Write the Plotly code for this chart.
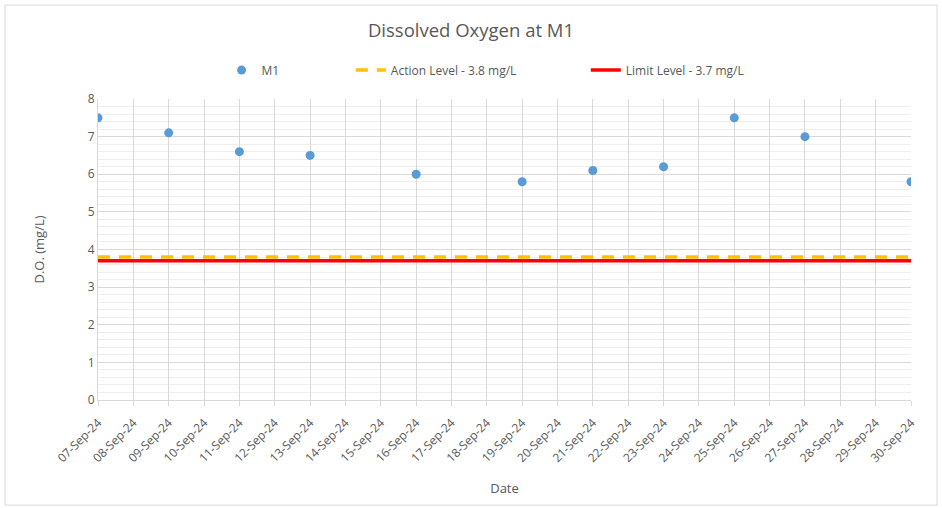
import plotly.graph_objects as go

dates = ["2024-09-07", "2024-09-09", "2024-09-11", "2024-09-13", "2024-09-16",
         "2024-09-19", "2024-09-21", "2024-09-23", "2024-09-25", "2024-09-27", "2024-09-30"]
do_values = [7.5, 7.1, 6.6, 6.5, 6.0, 5.8, 6.1, 6.2, 7.5, 7.0, 5.8]
line_dates = ["2024-09-07", "2024-09-30"]
action_level = [3.8, 3.8]
limit_level = [3.7, 3.7]

FONT = "Open Sans"
GREY = "#595959"

fig = go.Figure()
fig.add_trace(go.Scatter(x=dates, y=do_values, mode="markers", name="M1",
                         marker=dict(color="#5B9BD5", size=9), legend="legend"))
fig.add_trace(go.Scatter(x=line_dates, y=action_level, mode="lines",
                         name="Action Level - 3.8 mg/L",
                         line=dict(color="#FFC000", width=3.5, dash="12px,9px"), legend="legend2"))
fig.add_trace(go.Scatter(x=line_dates, y=limit_level, mode="lines",
                         name="Limit Level - 3.7 mg/L",
                         line=dict(color="#FF0000", width=3.5), legend="legend3"))

leg_common = dict(orientation="h", y=1.096, yanchor="middle", xanchor="left",
                  font=dict(size=12, color=GREY), bgcolor="rgba(0,0,0,0)")

fig.update_layout(
    width=942, height=508,
    margin=dict(l=98, r=31, t=99, b=108),
    paper_bgcolor="white", plot_bgcolor="white",
    font=dict(family=FONT, size=12, color=GREY),
    title=dict(text="Dissolved Oxygen at M1", x=0.5, xanchor="center",
               y=0.94, yanchor="middle", font=dict(size=18.5, color=GREY)),
    legend=dict(x=0.152, **leg_common),
    legend2=dict(x=0.311, **leg_common),
    legend3=dict(x=0.600, **leg_common),
    showlegend=True,
    xaxis=dict(title=dict(text="Date", font=dict(size=13, color=GREY), standoff=18),
               type="date", range=["2024-09-07", "2024-09-30"],
               dtick=86400000, tick0="2024-09-07", tickformat="%d-%b-%y",
               tickangle=-45, showgrid=True, gridcolor="#D9D9D9", gridwidth=1,
               ticks="outside", ticklen=5, tickcolor="#D9D9D9", ticklabelstandoff=5,
               showline=True, linecolor="#D9D9D9", linewidth=1,
               tickfont=dict(size=12, color=GREY), zeroline=False, automargin=False),
    yaxis=dict(title=dict(text="D.O. (mg/L)", font=dict(size=13, color=GREY), standoff=40),
               range=[0, 8], dtick=1, showgrid=True, gridcolor="#D9D9D9", gridwidth=1,
               minor=dict(dtick=0.2, showgrid=True, gridcolor="#EEEEEE", gridwidth=1),
               showline=True, linecolor="#D9D9D9", zeroline=False,
               tickfont=dict(size=12, color=GREY), automargin=False),
    shapes=[dict(type="rect", xref="paper", yref="paper",
                 x0=-0.1144, x1=1.032, y0=-0.349, y1=1.312,
                 line=dict(color="#D9D9D9", width=1), layer="below")],
)

fig.write_html("out.html", config={"displayModeBar": False},
               post_script="document.body.style.margin='0';document.body.style.padding='0';")
